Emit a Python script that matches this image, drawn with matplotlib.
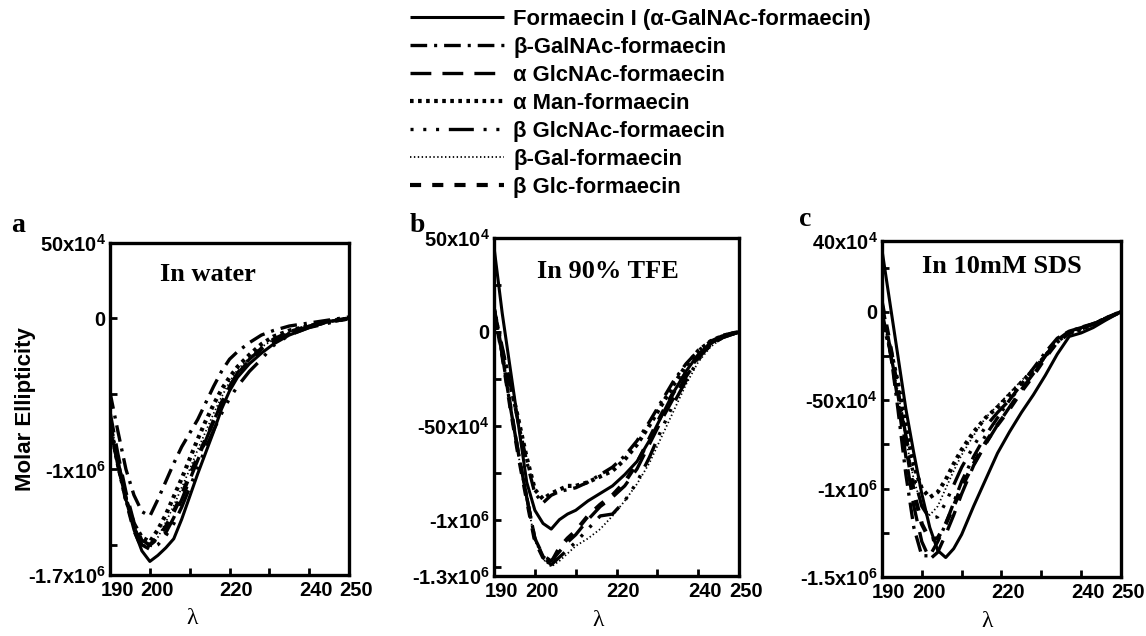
import numpy as np
import matplotlib
matplotlib.use("Agg")
import matplotlib.pyplot as plt
import matplotlib.transforms as mtransforms

plt.rcParams['font.family'] = ['Liberation Sans', 'DejaVu Sans']
plt.rcParams['mathtext.fontset'] = 'custom'
plt.rcParams['mathtext.rm'] = 'Liberation Sans:bold'
plt.rcParams['mathtext.it'] = 'Liberation Sans:bold'
plt.rcParams['mathtext.bf'] = 'Liberation Sans:bold'
plt.rcParams['lines.scale_dashes'] = False

# ---------------- data (values in units of 1e6) ----------------
series_names = ["Formaecin I (\u03b1-GalNAc-formaecin)", "\u03b2-GalNAc-formaecin",
                "\u03b1 GlcNAc-formaecin", "\u03b1 Man-formaecin",
                "\u03b2 GlcNAc-formaecin", "\u03b2-Gal-formaecin", "\u03b2 Glc-formaecin"]

wl_a = [190, 192, 194, 196, 198, 200, 202, 204, 206, 208, 210, 212, 214, 216, 218, 220, 222, 225, 228, 231, 235, 240, 245, 250]
water_formaecin = [-0.72, -0.98, -1.20, -1.40, -1.54, -1.61, -1.57, -1.52, -1.46, -1.33, -1.18, -1.03, -0.89, -0.75, -0.60, -0.48, -0.39, -0.30, -0.23, -0.17, -0.11, -0.06, -0.02, 0.00]
water_bGalNAc = [-0.49, -0.75, -1.00, -1.17, -1.28, -1.31, -1.20, -1.08, -0.96, -0.85, -0.76, -0.67, -0.56, -0.45, -0.35, -0.27, -0.22, -0.16, -0.11, -0.08, -0.05, -0.03, -0.01, 0.01]
water_aGlcNAc = [-0.62, -0.90, -1.15, -1.35, -1.47, -1.50, -1.46, -1.42, -1.32, -1.20, -1.07, -0.94, -0.81, -0.68, -0.56, -0.45, -0.36, -0.27, -0.20, -0.15, -0.10, -0.05, -0.02, 0.00]
water_aMan = [-0.70, -0.97, -1.20, -1.36, -1.45, -1.48, -1.40, -1.30, -1.18, -1.06, -0.93, -0.80, -0.68, -0.57, -0.47, -0.39, -0.32, -0.24, -0.17, -0.12, -0.08, -0.05, -0.02, 0.00]
water_bGlcNAc = [-0.68, -0.95, -1.18, -1.38, -1.50, -1.53, -1.50, -1.44, -1.36, -1.25, -1.12, -0.99, -0.86, -0.74, -0.63, -0.53, -0.45, -0.35, -0.27, -0.18, -0.11, -0.06, -0.03, 0.00]
water_bGal = [-0.66, -0.93, -1.17, -1.37, -1.49, -1.52, -1.45, -1.35, -1.24, -1.12, -1.00, -0.87, -0.75, -0.63, -0.52, -0.42, -0.34, -0.26, -0.19, -0.14, -0.09, -0.05, -0.02, 0.00]
water_bGlc = [-0.70, -0.96, -1.20, -1.40, -1.52, -1.50, -1.45, -1.38, -1.28, -1.17, -1.04, -0.92, -0.80, -0.68, -0.56, -0.46, -0.37, -0.28, -0.20, -0.14, -0.09, -0.05, -0.02, 0.00]

wl_bc = [190, 192, 194, 196, 198, 200, 202, 204, 206, 208, 210, 213, 216, 219, 222, 225, 228, 231, 234, 237, 240, 243, 246, 250]
tfe_formaecin = [0.45, 0.10, -0.20, -0.50, -0.80, -0.95, -1.02, -1.05, -1.00, -0.97, -0.95, -0.90, -0.86, -0.82, -0.76, -0.69, -0.58, -0.45, -0.32, -0.21, -0.12, -0.06, -0.02, 0.00]
tfe_bGalNAc = [0.12, -0.08, -0.28, -0.49, -0.69, -0.86, -0.91, -0.87, -0.85, -0.84, -0.83, -0.80, -0.76, -0.72, -0.66, -0.58, -0.48, -0.37, -0.26, -0.17, -0.10, -0.05, -0.02, 0.00]
tfe_aGlcNAc = [0.12, -0.12, -0.40, -0.65, -0.88, -1.10, -1.19, -1.22, -1.17, -1.12, -1.08, -1.00, -0.93, -0.88, -0.82, -0.73, -0.60, -0.47, -0.35, -0.24, -0.14, -0.07, -0.03, 0.00]
tfe_aMan = [0.12, -0.10, -0.28, -0.47, -0.67, -0.84, -0.89, -0.86, -0.84, -0.82, -0.82, -0.80, -0.77, -0.74, -0.68, -0.60, -0.50, -0.39, -0.28, -0.18, -0.10, -0.05, -0.02, 0.00]
tfe_bGlcNAc = [0.12, -0.12, -0.40, -0.65, -0.88, -1.10, -1.20, -1.24, -1.20, -1.16, -1.12, -1.05, -0.98, -0.97, -0.90, -0.80, -0.67, -0.52, -0.38, -0.26, -0.15, -0.07, -0.03, 0.00]
tfe_bGal = [0.10, -0.12, -0.40, -0.66, -0.89, -1.11, -1.21, -1.25, -1.22, -1.18, -1.14, -1.10, -1.05, -0.98, -0.90, -0.81, -0.70, -0.56, -0.42, -0.28, -0.16, -0.08, -0.03, 0.00]
tfe_bGlc = [0.12, -0.12, -0.40, -0.66, -0.89, -1.11, -1.20, -1.23, -1.15, -1.10, -1.06, -0.98, -0.92, -0.87, -0.80, -0.70, -0.57, -0.44, -0.32, -0.22, -0.13, -0.06, -0.02, 0.00]

sds_formaecin = [0.35, 0.05, -0.25, -0.55, -0.80, -1.03, -1.22, -1.35, -1.39, -1.34, -1.26, -1.10, -0.95, -0.80, -0.68, -0.57, -0.47, -0.36, -0.24, -0.14, -0.12, -0.09, -0.05, 0.00]
sds_bGalNAc = [0.05, -0.20, -0.55, -0.92, -1.22, -1.38, -1.38, -1.30, -1.20, -1.08, -0.96, -0.82, -0.70, -0.60, -0.50, -0.41, -0.32, -0.23, -0.15, -0.11, -0.09, -0.07, -0.04, 0.00]
sds_aGlcNAc = [0.00, -0.22, -0.50, -0.82, -1.10, -1.30, -1.40, -1.36, -1.26, -1.15, -1.03, -0.87, -0.75, -0.64, -0.54, -0.44, -0.35, -0.25, -0.16, -0.11, -0.09, -0.07, -0.04, 0.00]
sds_aMan = [-0.05, -0.20, -0.40, -0.65, -0.87, -1.00, -1.05, -1.02, -0.95, -0.86, -0.78, -0.68, -0.60, -0.54, -0.47, -0.40, -0.33, -0.25, -0.17, -0.12, -0.10, -0.07, -0.04, 0.00]
sds_bGlcNAc = [0.00, -0.22, -0.45, -0.70, -0.93, -1.10, -1.17, -1.16, -1.08, -0.98, -0.88, -0.76, -0.65, -0.57, -0.50, -0.42, -0.34, -0.25, -0.17, -0.12, -0.10, -0.07, -0.04, 0.00]
sds_bGal = [-0.02, -0.22, -0.45, -0.72, -0.95, -1.10, -1.15, -1.10, -1.00, -0.90, -0.81, -0.70, -0.60, -0.53, -0.46, -0.39, -0.32, -0.24, -0.16, -0.12, -0.10, -0.07, -0.04, 0.00]
sds_bGlc = [0.05, -0.18, -0.45, -0.75, -1.02, -1.20, -1.29, -1.28, -1.20, -1.10, -0.99, -0.86, -0.74, -0.64, -0.55, -0.45, -0.36, -0.26, -0.17, -0.12, -0.09, -0.07, -0.04, 0.00]

panel_titles = ["In water", "In 90% TFE", "In 10mM SDS"]
panel_letters = ["a", "b", "c"]
xtick_vals = [190, 200, 210, 220, 230, 240, 250]
xtick_labels = ["190", "200", "", "220", "", "240", "250"]
ylims = [(-1.7e6, 5e5), (-1.3e6, 5e5), (-1.5e6, 4e5)]
ytick_vals = [[5e5, 0, -1e6, -1.7e6], [5e5, 0, -5e5, -1e6, -1.3e6], [4e5, 0, -5e5, -1e6, -1.5e6]]
ytick_labels = [["50x10$^{4}$", "0", "-1x10$^{6}$", "-1.7x10$^{6}$"],
                ["50x10$^{4}$", "0", "-50x10$^{4}$", "-1x10$^{6}$", "-1.3x10$^{6}$"],
                ["40x10$^{4}$", "0", "-50x10$^{4}$", "-1x10$^{6}$", "-1.5x10$^{6}$"]]
yminor_vals = [[-5e5, -1.5e6], [2.5e5, -2.5e5, -7.5e5, -1.25e6], [2.5e5, -2.5e5, -7.5e5, -1.25e6]]

panels = [
    (wl_a, [water_formaecin, water_bGalNAc, water_aGlcNAc, water_aMan, water_bGlcNAc, water_bGal, water_bGlc]),
    (wl_bc, [tfe_formaecin, tfe_bGalNAc, tfe_aGlcNAc, tfe_aMan, tfe_bGlcNAc, tfe_bGal, tfe_bGlc]),
    (wl_bc, [sds_formaecin, sds_bGalNAc, sds_aGlcNAc, sds_aMan, sds_bGlcNAc, sds_bGal, sds_bGlc]),
]

# ---------------- styles ----------------
styles = [
    dict(linestyle='-', lw=2.2),
    dict(linestyle=(0, (12, 5, 2.2, 5)), lw=2.4),
    dict(linestyle=(0, (15, 8)), lw=2.4),
    dict(linestyle=(0, (2.6, 3.2)), lw=3.0),
    dict(linestyle=(0, (2.2, 7, 2.2, 7, 2.2, 7, 18, 7)), lw=2.4),
    dict(linestyle=(0, (1.0, 1.8)), lw=1.3),
    dict(linestyle=(0, (8, 8)), lw=3.0),
]

fig = plt.figure(figsize=(11.46, 6.36), dpi=100)
rects = [[0.0960, 0.0959, 0.2086, 0.5220],
         [0.4311, 0.0943, 0.2138, 0.5314],
         [0.7696, 0.0928, 0.2086, 0.5283]]
title_pos = [(0.41, 0.904), (0.466, 0.90), (0.50, 0.923)]
xlabel_pos = [0.343, 0.424, 0.44]
letter_pos = [(18, 225), (417, 225), (805, 220)]

handles = []
for i, (rect, (wl, sers)) in enumerate(zip(rects, panels)):
    ax = fig.add_axes(rect)
    for j, (vals, st) in enumerate(zip(sers, styles)):
        ln, = ax.plot(wl, np.array(vals) * 1e6, color='black', solid_capstyle='butt',
                      dash_capstyle='butt', **st)
        if i == 0:
            handles.append(ln)
    ax.set_xlim(190, 250)
    ax.set_ylim(*ylims[i])
    ax.set_xticks(xtick_vals)
    ax.set_xticklabels(xtick_labels, fontsize=14.5, fontweight='bold')
    ax.set_yticks(ytick_vals[i])
    ax.set_yticklabels(ytick_labels[i], fontsize=14.5, fontweight='bold')
    ax.set_yticks(yminor_vals[i], minor=True)
    ax.tick_params(axis='both', which='both', direction='in', length=5, width=2)
    ax.tick_params(axis='x', pad=4)
    ax.tick_params(axis='y', pad=3)
    offset = mtransforms.ScaledTranslation(7 / 100, 0, fig.dpi_scale_trans)
    for lab in ax.get_xticklabels():
        lab.set_transform(lab.get_transform() + offset)
    for sp in ax.spines.values():
        sp.set_linewidth(2.4)
    ax.text(title_pos[i][0], title_pos[i][1], panel_titles[i], transform=ax.transAxes,
            ha='center', va='center', fontsize=19, fontweight='bold', family='Liberation Serif')
    ax.set_xlabel("\u03bb", fontsize=17, family='Liberation Serif')
    ax.xaxis.set_label_coords(xlabel_pos[i], -0.10)
    fig.text(letter_pos[i][0] / 1146, 1 - letter_pos[i][1] / 636, panel_letters[i],
             ha='center', va='center', fontsize=20, fontweight='bold', family='Liberation Serif')
    if i == 0:
        ax.set_ylabel("Molar Ellipticity", fontsize=16, fontweight='bold')
        ax.yaxis.set_label_coords(-0.31, 0.5)

fig.legend(handles, series_names, loc='upper left', bbox_to_anchor=(410 / 1146, 1 - 9 / 636),
           frameon=False, prop={'weight': 'bold', 'size': 15.8},
           handlelength=4.3, handletextpad=0.4, labelspacing=0.32, borderpad=0, borderaxespad=0)

fig.savefig("out.png", dpi=100, facecolor='white')
